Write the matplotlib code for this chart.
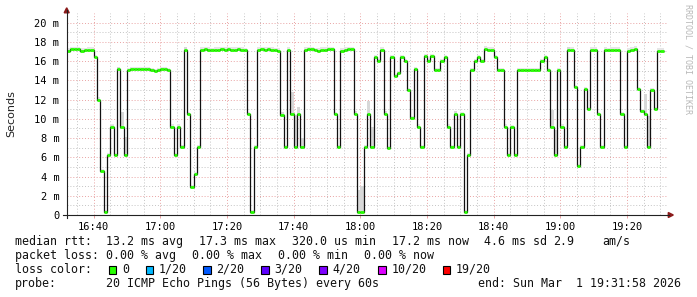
import matplotlib.pyplot as plt
from matplotlib.lines import Line2D
from matplotlib.patches import Rectangle, Polygon

W, H = 697, 297

# медиана rtt по минутам (мс), первая ступень начинается в 16:31
median = [
    17.1, 17.1, 17.25, 17.25, 17.25, 17.1, 17.15, 17.2, 17.2, 16.4,   # 16:31
    12.0, 4.6, 0.3, 6.2, 9.2, 6.2, 15.15, 9.2, 6.2, 15.1,             # 16:41
    15.15, 15.2, 15.2, 15.15, 15.15, 15.2, 15.1, 15.0, 15.1, 15.15,   # 16:51
    15.15, 15.1, 9.2, 6.2, 9.2, 7.1, 17.2, 10.5, 2.9, 4.3,            # 17:01
    7.1, 17.2, 17.25, 17.2, 17.15, 17.2, 17.2, 17.25, 17.2, 17.25,    # 17:11
    17.2, 17.2, 17.25, 17.2, 17.15, 10.5, 0.3, 7.1, 17.2, 17.25,      # 17:21
    17.2, 17.25, 17.2, 17.15, 17.1, 10.4, 7.1, 17.2, 10.5, 7.1,       # 17:31
    10.5, 7.1, 17.2, 17.25, 17.25, 17.15, 17.1, 17.2, 17.2, 17.25,    # 17:41
    17.25, 10.5, 7.1, 17.1, 17.2, 17.25, 17.25, 10.5, 0.3, 0.3,       # 17:51
    7.1, 10.5, 7.1, 16.4, 16.0, 17.2, 10.5, 7.0, 16.4, 14.4,          # 18:01
    14.8, 16.4, 16.0, 13.0, 10.1, 15.2, 9.2, 7.1, 16.5, 16.0,         # 18:11
    16.5, 15.1, 15.1, 16.0, 16.4, 9.2, 7.1, 10.5, 7.1, 10.5,          # 18:21
    0.3, 6.2, 15.1, 16.0, 16.4, 16.0, 17.3, 17.2, 17.2, 16.4,         # 18:31
    15.1, 15.1, 9.2, 6.2, 9.15, 6.2, 15.1, 15.1, 15.1, 15.05,         # 18:41
    15.1, 15.1, 15.1, 16.0, 16.4, 15.1, 9.2, 6.2, 15.1, 9.2,          # 18:51
    7.1, 17.2, 17.2, 13.3, 5.1, 7.1, 13.1, 11.0, 17.2, 17.2,          # 19:01
    10.5, 7.1, 17.2, 17.15, 17.2, 17.2, 17.2, 10.5, 7.1, 17.1,        # 19:11
    17.2, 17.3, 13.1, 10.8, 10.5, 7.1, 13.0, 11.0, 17.1, 17.1,        # 19:21
]

# заметный "дым" (разброс пингов) для отдельных минут
smoke_idx = [14, 16, 17, 18, 35, 36, 65, 68, 69, 70, 71, 87, 88, 89,
             91, 92, 96, 117, 146, 147, 151, 174, 175]
smoke_lo = [9.2, 15.15, 9.2, 6.2, 7.0, 17.2, 10.4, 10.5, 7.1, 10.5, 7.1, 10.5, 0.3, 0.3,
            10.5, 7.1, 10.5, 10.5, 9.2, 6.2, 17.2, 10.5, 7.1]
smoke_hi = [9.4, 15.4, 10.7, 8.1, 7.3, 17.5, 10.7, 12.8, 10.4, 11.2, 8.0, 10.8, 2.6, 3.0,
            11.9, 9.1, 10.8, 10.8, 10.9, 8.8, 17.5, 12.6, 10.3]

x_labels = ['16:40', '17:00', '17:20', '17:40', '18:00', '18:20', '18:40', '19:00', '19:20']
y_ticks = [0, 2, 4, 6, 8, 10, 12, 14, 16, 18, 20]
y_labels = ['0'] + [f'{v} m' for v in y_ticks[1:]]

loss_labels = ['0', '1/20', '2/20', '3/20', '4/20', '10/20', '19/20']
loss_colors = ['#26ff00', '#00b8ff', '#0059ff', '#5e00ff', '#7e00ff', '#dd00ff', '#ff0000']

START = 16 * 60 + 31


def to_min(s):
    h, m = s.split(':')
    return int(h) * 60 + int(m) - START


def px(x, y):
    return x / W, 1 - y / H


mono = 'DejaVu Sans Mono'
grid_major = '#e9a3a3'
grid_minor = '#c4c4c4'

fig = plt.figure(figsize=(W / 100, H / 100), dpi=100)
fig.patch.set_facecolor('white')
ax = fig.add_axes([67 / W, 1 - 215 / H, 600 / W, 202 / H])

n = len(median)
xs = list(range(n))

# дым
ax.bar(xs, [0.3] * n, bottom=[v - 0.08 for v in median], width=1, align='edge',
       color='#e6e6e6', lw=0, zorder=2)
ax.bar(smoke_idx, [h - l for l, h in zip(smoke_lo, smoke_hi)], bottom=smoke_lo,
       width=1, align='edge', color='#d8d8d8', lw=0, zorder=2)

# ступенчатая медиана
ax.stairs(median, range(n + 1), baseline=None, color='#111111', lw=0.9, zorder=3)
ax.hlines(median, xs, [v + 1 for v in xs], color=loss_colors[0], lw=2.0, zorder=4)

ax.set_xlim(0.967, 180.967)
ax.set_ylim(0, 21)

# сетка
maj_x = [to_min(s) for s in x_labels]
min_x = [m for m in range(4, 181, 5) if m not in maj_x]
for m in min_x:
    ax.axvline(m, color=grid_minor, lw=0.7, ls=(0, (1, 2)), zorder=1)
for m in maj_x:
    ax.axvline(m, color=grid_major, lw=0.7, ls=(0, (1, 2)), zorder=1)
for v in range(1, 21):
    c = grid_major if v % 2 == 0 else grid_minor
    ax.axhline(v, color=c, lw=0.7, ls=(0, (1, 2)), zorder=1)

ax.set_xticks(maj_x)
ax.set_xticklabels(x_labels, family=mono, fontsize=7.5)
ax.set_yticks(y_ticks)
ax.set_yticklabels(y_labels, family=mono, fontsize=7.5)
ax.tick_params(axis='x', length=2.5, width=0.7, color=grid_major, pad=2.5)
ax.tick_params(axis='y', length=0, pad=5.5)
for s in ax.spines.values():
    s.set_visible(False)

# оси со стрелками
fig.add_artist(Line2D([px(66.7, 0)[0]] * 2, [px(0, 218)[1], px(0, 10)[1]], color='#222222', lw=0.8))
fig.add_artist(Line2D([px(63, 0)[0], px(669, 0)[0]], [px(0, 215)[1]] * 2, color='#222222', lw=0.8))
fig.add_artist(Polygon([px(64.2, 12.8), px(69.2, 12.8), px(66.7, 7.8)], closed=True,
                       color='#8b1a1a', transform=fig.transFigure))
fig.add_artist(Polygon([px(668.3, 212.5), px(668.3, 217.5), px(673.3, 215)], closed=True,
                       color='#8b1a1a', transform=fig.transFigure))

fig.text(*px(11, 113.5), 'Seconds', rotation=90, ha='center', va='center',
         fontsize=8, family='DejaVu Sans', color='#222222')
fig.text(*px(688, 4), 'RRDTOOL / TOBI OETIKER', rotation=270, ha='center', va='top',
         fontsize=6, family=mono, color='#b8b8b8')

# легенда
fs = 8.4
rows = [
    (241.3, [(16, 'median rtt:'), (107, '13.2 ms avg'), (200, '17.3 ms max'),
             (293, '320.0 us min'), (393, '17.2 ms now'), (485, '4.6 ms sd'),
             (553.5, '2.9'), (603.5, 'am/s')]),
    (255.3, [(16, 'packet loss:'), (107, '0.00 % avg'), (193, '0.00 % max'),
             (279, '0.00 % min'), (365, '0.00 % now')]),
    (269.3, [(16, 'loss color:')]),
    (283.3, [(16, 'probe:'), (107, '20 ICMP Echo Pings (56 Bytes) every 60s'),
             (478.5, 'end: Sun Mar  1 19:31:58 2026')]),
]
for y, items in rows:
    for x, s in items:
        fig.text(*px(x - 0.8, y), s, ha='left', va='center', fontsize=fs,
                 family=mono, color='#111111')

box_x = [108.7, 145.7, 203.3, 261, 319.3, 378, 442.5]
for bx, lab, col in zip(box_x, loss_labels, loss_colors):
    x0, y0 = px(bx, 274)
    fig.add_artist(Rectangle((x0, y0), 7.5 / W, 8.5 / H, facecolor=col,
                             edgecolor='black', lw=0.8, transform=fig.transFigure))
    fig.text(*px(bx + 13.2, 269.3), lab, ha='left', va='center', fontsize=fs,
             family=mono, color='#111111')

fig.savefig('out.png', dpi=100)
